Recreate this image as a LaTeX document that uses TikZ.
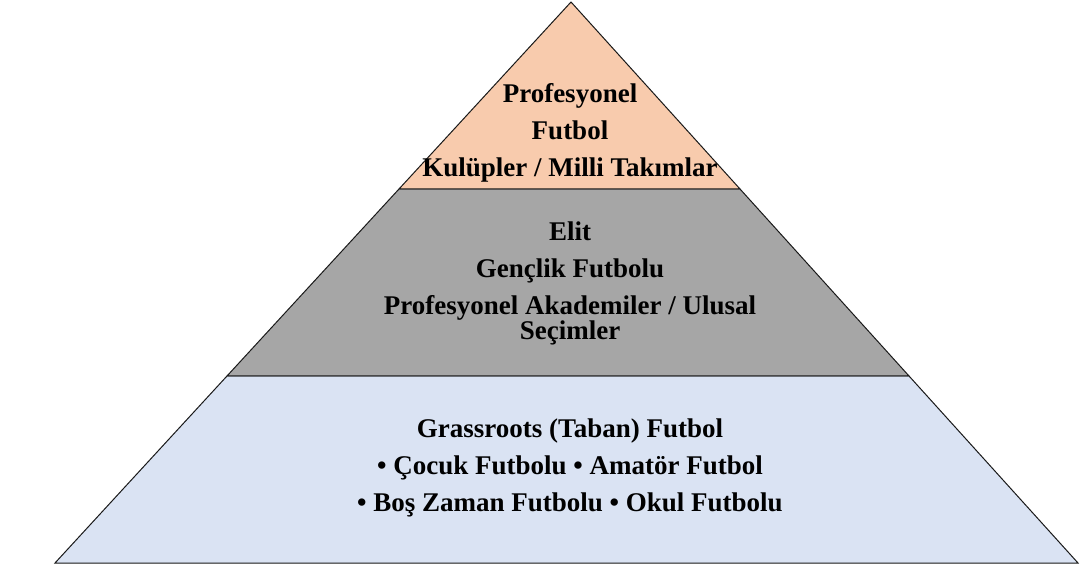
\documentclass[tikz,border=0pt]{standalone}
\usepackage{fontspec}
\setmainfont{Liberation Serif}
\usetikzlibrary{calc}
\definecolor{peach}{HTML}{F8CBAD}
\definecolor{midgray}{HTML}{A6A6A6}
\definecolor{paleblue}{HTML}{DAE3F3}
\tikzset{
  layer/.style={draw=black!90, line width=1pt, line join=miter},
  lbl/.style={font=\bfseries\fontsize{27}{25}\selectfont, align=center, inner sep=0pt},
}

\begin{document}
\begin{tikzpicture}[x=1pt, y=-1pt]
  \useasboundingbox (0,0) rectangle (1081,569);

  % pyramid corners and the two cut lines
  \coordinate (apex) at (571,2);
  \coordinate (bl) at (55,563);
  \coordinate (br) at (1078,563);
  \coordinate (l1) at ($(apex)!1/3!(bl)$);
  \coordinate (r1) at ($(apex)!1/3!(br)$);
  \coordinate (l2) at ($(apex)!2/3!(bl)$);
  \coordinate (r2) at ($(apex)!2/3!(br)$);

  \filldraw[layer, fill=paleblue] (l2) -- (r2) -- (br) -- (bl) -- cycle;
  \filldraw[layer, fill=midgray] (l1) -- (r1) -- (r2) -- (l2) -- cycle;
  \filldraw[layer, fill=peach] (apex) -- (r1) -- (l1) -- cycle;

  \node[lbl] (pro) at (570,133)
    {Profesyonel\\[12pt]Futbol\\[12pt]Kulüpler / Milli Takımlar};
  \node[lbl] (elit) at (570,283)
    {Elit\\[12pt]Gençlik Futbolu\\[12pt]Profesyonel Akademiler / Ulusal\\Seçimler};
  \node[lbl] (grass) at (570,468)
    {Grassroots (Taban) Futbol\\[12pt]• Çocuk Futbolu • Amatör Futbol\\[12pt]• Boş Zaman Futbolu • Okul Futbolu};
\end{tikzpicture}
\end{document}
